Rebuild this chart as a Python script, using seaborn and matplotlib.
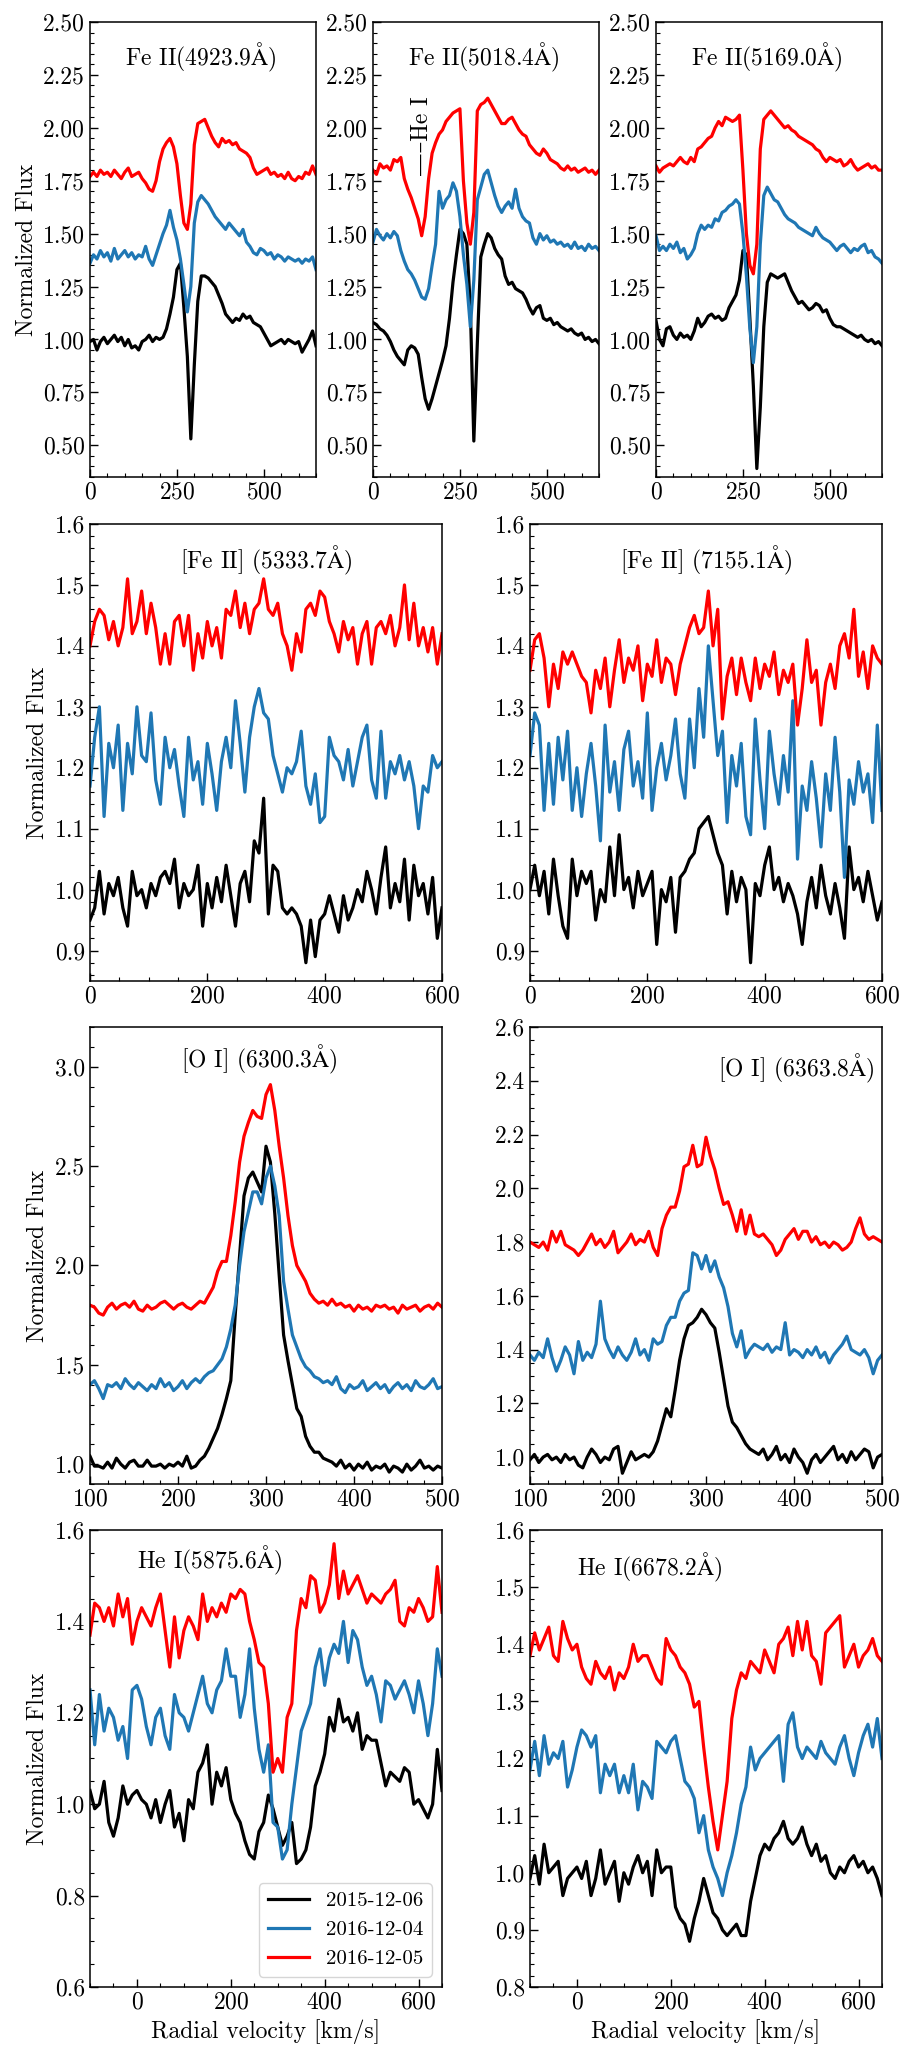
import numpy as np
import matplotlib
matplotlib.use("Agg")
import matplotlib.pyplot as plt
from matplotlib.ticker import MultipleLocator, FormatStrFormatter
import seaborn as sns

DATES = ["2015-12-06", "2016-12-04", "2016-12-05"]
COLORS = ["black", "#1f77b4", "red"]

v_fe = np.arange(0, 651, 10)
v_forb = np.arange(0, 601, 8)
v_oi = np.arange(100, 501, 5)
v_he = np.arange(-100, 651, 10)

# Fe II 4923.9
fe4924_k = [0.99, 1.00, 0.95, 0.99, 1.01, 0.98, 1.00, 1.02, 0.99, 1.01,
            0.97, 1.00, 0.96, 0.97, 0.95, 0.99, 1.00, 1.02, 0.99, 1.01,
            1.00, 1.01, 1.05, 1.12, 1.20, 1.33, 1.36, 1.15, 0.92, 0.53,
            0.88, 1.18, 1.30, 1.30, 1.29, 1.27, 1.25, 1.21, 1.17, 1.12,
            1.10, 1.08, 1.10, 1.09, 1.12, 1.10, 1.11, 1.08, 1.07, 1.06,
            1.03, 1.00, 0.97, 0.98, 0.99, 1.00, 0.98, 1.00, 0.99, 0.98,
            0.99, 0.94, 0.97, 1.00, 1.04, 0.97]
fe4924_b = [1.36, 1.40, 1.38, 1.42, 1.39, 1.41, 1.37, 1.43, 1.38, 1.40,
            1.42, 1.39, 1.41, 1.38, 1.40, 1.39, 1.44, 1.38, 1.35, 1.40,
            1.45, 1.50, 1.54, 1.61, 1.53, 1.47, 1.38, 1.26, 1.13, 1.25,
            1.55, 1.65, 1.68, 1.66, 1.64, 1.61, 1.58, 1.56, 1.54, 1.52,
            1.55, 1.53, 1.51, 1.49, 1.52, 1.46, 1.44, 1.41, 1.40, 1.43,
            1.42, 1.40, 1.41, 1.38, 1.40, 1.39, 1.37, 1.39, 1.38, 1.37,
            1.38, 1.36, 1.38, 1.37, 1.39, 1.33]
fe4924_r = [1.77, 1.79, 1.77, 1.80, 1.78, 1.79, 1.77, 1.80, 1.78, 1.76,
            1.79, 1.81, 1.77, 1.78, 1.79, 1.76, 1.74, 1.71, 1.70, 1.75,
            1.84, 1.90, 1.93, 1.95, 1.91, 1.83, 1.68, 1.55, 1.52, 1.64,
            1.92, 2.02, 2.03, 2.04, 2.00, 1.96, 1.93, 1.91, 1.95, 1.93,
            1.94, 1.92, 1.93, 1.90, 1.89, 1.88, 1.86, 1.81, 1.78, 1.79,
            1.80, 1.81, 1.78, 1.79, 1.77, 1.78, 1.76, 1.79, 1.76, 1.75,
            1.77, 1.76, 1.79, 1.78, 1.82, 1.78]

# Fe II 5018.4
fe5018_k = [1.08, 1.07, 1.05, 1.04, 1.02, 0.99, 0.95, 0.92, 0.90, 0.88,
            0.95, 0.97, 0.96, 0.93, 0.82, 0.72, 0.67, 0.72, 0.78, 0.84,
            0.90, 0.97, 1.10, 1.27, 1.40, 1.52, 1.50, 1.45, 1.15, 0.52,
            0.98, 1.39, 1.45, 1.50, 1.48, 1.43, 1.40, 1.38, 1.30, 1.26,
            1.27, 1.24, 1.23, 1.22, 1.19, 1.15, 1.12, 1.15, 1.16, 1.10,
            1.09, 1.10, 1.07, 1.08, 1.06, 1.05, 1.04, 1.05, 1.03, 1.02,
            1.03, 1.00, 1.01, 0.99, 1.00, 0.98]
fe5018_b = [1.46, 1.52, 1.49, 1.47, 1.50, 1.48, 1.51, 1.49, 1.42, 1.37,
            1.33, 1.31, 1.28, 1.24, 1.20, 1.19, 1.24, 1.35, 1.45, 1.70,
            1.62, 1.66, 1.68, 1.74, 1.70, 1.58, 1.40, 1.26, 1.06, 1.28,
            1.66, 1.72, 1.78, 1.80, 1.74, 1.68, 1.63, 1.60, 1.63, 1.65,
            1.62, 1.71, 1.62, 1.58, 1.56, 1.55, 1.48, 1.45, 1.50, 1.47,
            1.49, 1.46, 1.47, 1.45, 1.46, 1.44, 1.45, 1.43, 1.46, 1.43,
            1.44, 1.42, 1.45, 1.43, 1.44, 1.42]
fe5018_r = [1.80, 1.78, 1.83, 1.81, 1.82, 1.80, 1.85, 1.84, 1.86, 1.76,
            1.71, 1.67, 1.62, 1.57, 1.49, 1.58, 1.76, 1.88, 1.93, 1.97,
            1.99, 2.03, 2.05, 2.07, 2.08, 2.09, 1.75, 1.55, 1.45, 1.60,
            2.08, 2.11, 2.12, 2.14, 2.11, 2.08, 2.05, 2.02, 2.02, 2.04,
            2.05, 2.02, 1.99, 1.97, 1.96, 1.92, 1.90, 1.88, 1.87, 1.90,
            1.88, 1.85, 1.84, 1.83, 1.81, 1.80, 1.82, 1.80, 1.81, 1.79,
            1.80, 1.81, 1.79, 1.80, 1.78, 1.80]

# Fe II 5169.0
fe5169_k = [1.09, 1.00, 0.97, 1.05, 1.06, 1.02, 1.00, 1.03, 1.01, 1.02,
            1.00, 1.04, 1.10, 1.06, 1.08, 1.11, 1.12, 1.10, 1.11, 1.09,
            1.10, 1.15, 1.18, 1.21, 1.28, 1.42, 1.40, 1.10, 0.78, 0.39,
            0.68, 1.06, 1.27, 1.31, 1.30, 1.29, 1.30, 1.31, 1.27, 1.23,
            1.20, 1.17, 1.18, 1.16, 1.14, 1.15, 1.17, 1.16, 1.13, 1.14,
            1.10, 1.07, 1.06, 1.06, 1.05, 1.04, 1.03, 1.02, 1.01, 1.02,
            1.00, 0.99, 1.00, 0.98, 0.99, 0.97]
fe5169_b = [1.49, 1.42, 1.44, 1.42, 1.45, 1.43, 1.46, 1.41, 1.43, 1.38,
            1.40, 1.43, 1.50, 1.54, 1.52, 1.54, 1.53, 1.57, 1.56, 1.60,
            1.61, 1.63, 1.64, 1.66, 1.64, 1.50, 1.30, 1.05, 0.89, 1.06,
            1.45, 1.68, 1.72, 1.69, 1.66, 1.65, 1.62, 1.59, 1.57, 1.56,
            1.55, 1.53, 1.52, 1.51, 1.50, 1.49, 1.53, 1.50, 1.48, 1.47,
            1.46, 1.44, 1.42, 1.44, 1.45, 1.43, 1.41, 1.43, 1.42, 1.44,
            1.45, 1.41, 1.42, 1.39, 1.38, 1.36]
fe5169_r = [1.82, 1.79, 1.81, 1.82, 1.83, 1.82, 1.84, 1.86, 1.84, 1.83,
            1.86, 1.84, 1.90, 1.91, 1.93, 1.95, 1.96, 2.00, 2.03, 2.01,
            2.05, 2.04, 2.03, 2.04, 2.06, 1.80, 1.50, 1.35, 1.31, 1.45,
            1.90, 2.04, 2.06, 2.08, 2.06, 2.04, 2.02, 2.00, 2.01, 1.99,
            1.98, 1.96, 1.95, 1.94, 1.93, 1.92, 1.90, 1.89, 1.86, 1.84,
            1.86, 1.85, 1.84, 1.85, 1.82, 1.83, 1.85, 1.82, 1.80, 1.81,
            1.82, 1.83, 1.81, 1.82, 1.80, 1.80]

# [Fe II] 5333.7
fe5334_k = [0.95, 0.97, 1.03, 0.96, 1.01, 0.99, 1.02, 0.97, 0.94, 1.03,
            0.99, 1.00, 0.97, 1.01, 0.99, 1.02, 1.03, 1.01, 1.05, 0.97,
            1.01, 0.99, 1.00, 1.04, 0.94, 1.01, 0.97, 1.02, 0.98, 1.04,
            0.99, 0.94, 1.01, 1.03, 0.98, 1.08, 1.06, 1.15, 0.96, 1.04,
            1.03, 0.97, 0.96, 0.97, 0.96, 0.94, 0.88, 0.95, 0.89, 0.95,
            0.96, 0.99, 0.96, 0.93, 0.99, 0.95, 0.97, 1.00, 0.98, 1.03,
            1.00, 0.96, 1.02, 1.07, 0.97, 1.01, 0.98, 1.05, 0.95, 1.04,
            0.99, 1.01, 0.96, 1.02, 0.92, 0.97]
fe5334_b = [1.17, 1.25, 1.30, 1.12, 1.24, 1.20, 1.27, 1.13, 1.24, 1.19,
            1.30, 1.22, 1.21, 1.29, 1.18, 1.14, 1.25, 1.20, 1.23, 1.17,
            1.12, 1.25, 1.18, 1.21, 1.14, 1.24, 1.19, 1.13, 1.21, 1.25,
            1.20, 1.31, 1.24, 1.16, 1.25, 1.30, 1.33, 1.29, 1.28, 1.22,
            1.19, 1.16, 1.20, 1.19, 1.21, 1.26, 1.17, 1.14, 1.19, 1.11,
            1.12, 1.25, 1.22, 1.21, 1.18, 1.23, 1.17, 1.21, 1.25, 1.27,
            1.18, 1.15, 1.26, 1.15, 1.21, 1.19, 1.22, 1.18, 1.21, 1.17,
            1.10, 1.17, 1.16, 1.22, 1.20, 1.21]
fe5334_r = [1.40, 1.44, 1.46, 1.45, 1.41, 1.44, 1.40, 1.43, 1.51, 1.42,
            1.44, 1.49, 1.42, 1.47, 1.43, 1.37, 1.42, 1.37, 1.44, 1.45,
            1.40, 1.45, 1.36, 1.42, 1.38, 1.44, 1.40, 1.43, 1.38, 1.46,
            1.45, 1.49, 1.43, 1.47, 1.42, 1.46, 1.47, 1.51, 1.46, 1.45,
            1.47, 1.42, 1.40, 1.36, 1.42, 1.39, 1.46, 1.47, 1.45, 1.49,
            1.48, 1.44, 1.42, 1.39, 1.44, 1.41, 1.43, 1.37, 1.42, 1.44,
            1.37, 1.43, 1.44, 1.42, 1.45, 1.40, 1.43, 1.50, 1.41, 1.47,
            1.40, 1.43, 1.39, 1.43, 1.37, 1.42]

# [Fe II] 7155.1
fe7155_k = [1.00, 1.04, 0.99, 1.03, 0.96, 1.05, 0.99, 0.94, 0.92, 1.05,
            0.99, 1.03, 1.01, 1.03, 0.95, 1.00, 0.98, 1.07, 0.99, 1.09,
            1.00, 1.02, 0.97, 1.03, 0.99, 1.01, 1.03, 0.91, 1.00, 0.98,
            1.02, 0.93, 1.02, 1.03, 1.05, 1.06, 1.10, 1.11, 1.12, 1.09,
            1.06, 1.04, 0.96, 1.03, 0.98, 1.02, 1.00, 0.88, 1.01, 0.99,
            1.04, 1.07, 1.00, 1.02, 0.98, 1.01, 0.99, 0.96, 0.91, 0.98,
            1.02, 0.97, 1.04, 0.99, 0.96, 1.01, 0.97, 0.92, 1.07, 1.00,
            1.02, 0.98, 1.03, 0.99, 0.95, 0.98]
fe7155_b = [1.22, 1.29, 1.27, 1.13, 1.24, 1.14, 1.25, 1.18, 1.26, 1.13,
            1.20, 1.12, 1.19, 1.24, 1.17, 1.08, 1.27, 1.16, 1.21, 1.13,
            1.23, 1.26, 1.17, 1.21, 1.15, 1.29, 1.13, 1.20, 1.24, 1.18,
            1.22, 1.28, 1.19, 1.15, 1.28, 1.20, 1.33, 1.25, 1.40, 1.31,
            1.22, 1.26, 1.11, 1.22, 1.17, 1.24, 1.12, 1.09, 1.28, 1.18,
            1.10, 1.26, 1.19, 1.14, 1.22, 1.16, 1.31, 1.05, 1.17, 1.13,
            1.21, 1.15, 1.07, 1.19, 1.13, 1.25, 1.16, 1.02, 1.18, 1.14,
            1.21, 1.16, 1.19, 1.11, 1.27, 1.13]
fe7155_r = [1.36, 1.41, 1.42, 1.38, 1.30, 1.37, 1.33, 1.39, 1.37, 1.39,
            1.37, 1.35, 1.34, 1.29, 1.36, 1.33, 1.38, 1.30, 1.36, 1.41,
            1.34, 1.38, 1.36, 1.40, 1.31, 1.37, 1.35, 1.41, 1.34, 1.38,
            1.37, 1.32, 1.37, 1.40, 1.43, 1.45, 1.42, 1.43, 1.49, 1.40,
            1.46, 1.28, 1.35, 1.38, 1.32, 1.38, 1.34, 1.31, 1.38, 1.33,
            1.37, 1.35, 1.39, 1.32, 1.36, 1.34, 1.37, 1.27, 1.33, 1.41,
            1.34, 1.36, 1.27, 1.34, 1.37, 1.33, 1.40, 1.42, 1.38, 1.46,
            1.35, 1.39, 1.33, 1.40, 1.38, 1.37]

# [O I] 6300.3
oi6300_k = [1.04, 0.99, 0.99, 0.98, 1.01, 0.98, 1.03, 1.00, 0.98, 1.01,
            1.02, 0.99, 0.99, 1.02, 0.99, 0.99, 1.00, 0.98, 1.00, 0.99,
            1.01, 0.99, 1.04, 0.98, 0.99, 1.02, 1.04, 1.08, 1.13, 1.18,
            1.25, 1.33, 1.42, 1.75, 2.05, 2.35, 2.44, 2.47, 2.42, 2.37,
            2.60, 2.52, 2.26, 1.95, 1.65, 1.52, 1.40, 1.28, 1.24, 1.14,
            1.09, 1.06, 1.06, 1.03, 1.02, 1.01, 0.99, 1.02, 0.98, 1.00,
            0.97, 1.00, 0.98, 1.01, 0.97, 0.99, 0.98, 1.00, 0.96, 0.99,
            0.98, 0.96, 1.00, 0.97, 0.99, 1.02, 0.98, 0.99, 0.97, 0.99,
            0.98]
oi6300_b = [1.40, 1.42, 1.38, 1.33, 1.40, 1.39, 1.41, 1.38, 1.43, 1.40,
            1.38, 1.41, 1.39, 1.37, 1.40, 1.38, 1.43, 1.39, 1.41, 1.37,
            1.39, 1.42, 1.38, 1.41, 1.43, 1.41, 1.44, 1.46, 1.47, 1.50,
            1.53, 1.59, 1.68, 1.80, 2.00, 2.17, 2.27, 2.37, 2.37, 2.31,
            2.44, 2.50, 2.40, 2.25, 1.92, 1.78, 1.65, 1.59, 1.53, 1.49,
            1.47, 1.44, 1.43, 1.41, 1.42, 1.40, 1.44, 1.38, 1.36, 1.40,
            1.38, 1.39, 1.42, 1.37, 1.39, 1.41, 1.38, 1.40, 1.36, 1.39,
            1.41, 1.38, 1.40, 1.37, 1.42, 1.39, 1.38, 1.40, 1.43, 1.38,
            1.39]
oi6300_r = [1.80, 1.79, 1.76, 1.75, 1.79, 1.81, 1.78, 1.80, 1.81, 1.79,
            1.82, 1.78, 1.77, 1.80, 1.78, 1.79, 1.81, 1.82, 1.80, 1.78,
            1.80, 1.81, 1.79, 1.78, 1.80, 1.82, 1.81, 1.85, 1.89, 1.97,
            2.02, 2.02, 2.15, 2.32, 2.52, 2.65, 2.72, 2.78, 2.75, 2.74,
            2.86, 2.91, 2.78, 2.60, 2.44, 2.25, 2.10, 2.00, 1.96, 1.92,
            1.86, 1.83, 1.81, 1.82, 1.80, 1.83, 1.80, 1.81, 1.79, 1.80,
            1.77, 1.80, 1.78, 1.79, 1.77, 1.80, 1.79, 1.80, 1.78, 1.79,
            1.76, 1.80, 1.78, 1.79, 1.80, 1.77, 1.79, 1.80, 1.78, 1.81,
            1.79]

# [O I] 6363.8
oi6364_k = [0.99, 1.01, 0.98, 1.00, 1.01, 0.99, 1.00, 0.98, 1.01, 0.99,
            1.00, 0.97, 0.96, 1.00, 1.03, 1.01, 0.98, 1.00, 0.99, 1.03,
            1.04, 0.94, 0.98, 1.02, 0.99, 1.00, 1.01, 1.00, 1.02, 1.06,
            1.12, 1.18, 1.15, 1.25, 1.36, 1.44, 1.49, 1.50, 1.52, 1.55,
            1.53, 1.50, 1.48, 1.39, 1.29, 1.19, 1.13, 1.11, 1.08, 1.05,
            1.03, 1.02, 1.01, 1.03, 0.99, 1.01, 1.04, 0.99, 1.01, 0.98,
            1.03, 1.00, 0.98, 0.94, 0.99, 1.01, 0.98, 1.00, 1.02, 1.04,
            0.99, 1.01, 0.98, 1.02, 0.99, 1.01, 1.03, 1.02, 0.96, 1.00,
            1.01]
oi6364_b = [1.38, 1.36, 1.39, 1.37, 1.44, 1.37, 1.32, 1.36, 1.41, 1.38,
            1.31, 1.43, 1.36, 1.39, 1.37, 1.42, 1.58, 1.44, 1.40, 1.37,
            1.41, 1.38, 1.36, 1.39, 1.44, 1.38, 1.40, 1.36, 1.44, 1.42,
            1.43, 1.49, 1.52, 1.52, 1.58, 1.61, 1.62, 1.76, 1.75, 1.70,
            1.75, 1.69, 1.73, 1.67, 1.63, 1.56, 1.46, 1.41, 1.47, 1.37,
            1.40, 1.42, 1.41, 1.40, 1.42, 1.39, 1.41, 1.40, 1.50, 1.38,
            1.40, 1.39, 1.37, 1.40, 1.38, 1.41, 1.37, 1.39, 1.35, 1.38,
            1.40, 1.42, 1.45, 1.40, 1.39, 1.38, 1.40, 1.37, 1.31, 1.36,
            1.38]
oi6364_r = [1.80, 1.79, 1.78, 1.80, 1.77, 1.84, 1.80, 1.84, 1.79, 1.78,
            1.77, 1.75, 1.77, 1.80, 1.83, 1.79, 1.81, 1.78, 1.80, 1.84,
            1.76, 1.78, 1.80, 1.83, 1.79, 1.81, 1.80, 1.84, 1.78, 1.75,
            1.85, 1.90, 1.93, 1.93, 1.99, 2.08, 2.09, 2.16, 2.08, 2.09,
            2.19, 2.12, 2.07, 2.00, 1.94, 1.95, 1.90, 1.84, 1.92, 1.83,
            1.90, 1.83, 1.82, 1.83, 1.81, 1.79, 1.75, 1.77, 1.81, 1.83,
            1.85, 1.81, 1.84, 1.84, 1.80, 1.82, 1.79, 1.80, 1.78, 1.80,
            1.79, 1.77, 1.78, 1.80, 1.85, 1.89, 1.83, 1.81, 1.82, 1.81,
            1.80]

# He I 5875.6
he5876_k = [1.03, 0.99, 1.00, 1.05, 0.96, 0.93, 0.97, 1.04, 1.00, 1.02,
            1.03, 1.01, 1.00, 0.97, 1.01, 0.96, 1.00, 1.03, 0.95, 0.98,
            0.92, 1.01, 0.99, 1.07, 1.09, 1.13, 1.00, 1.07, 1.04, 1.08,
            1.01, 0.98, 0.96, 0.92, 0.89, 0.88, 0.94, 0.96, 1.02, 0.99,
            0.95, 0.91, 0.93, 0.96, 0.87, 0.88, 0.90, 0.95, 1.04, 1.07,
            1.11, 1.19, 1.16, 1.23, 1.18, 1.19, 1.16, 1.20, 1.12, 1.15,
            1.14, 1.14, 1.09, 1.04, 1.07, 1.06, 1.05, 1.08, 1.07, 1.00,
            1.01, 0.99, 0.97, 1.00, 1.12, 1.03]
he5876_b = [1.25, 1.13, 1.24, 1.16, 1.21, 1.19, 1.14, 1.17, 1.10, 1.25,
            1.26, 1.23, 1.17, 1.13, 1.19, 1.21, 1.15, 1.12, 1.24, 1.20,
            1.19, 1.16, 1.20, 1.24, 1.28, 1.22, 1.20, 1.25, 1.27, 1.34,
            1.28, 1.28, 1.19, 1.24, 1.34, 1.21, 1.12, 1.07, 1.13, 0.96,
            0.95, 0.88, 0.90, 1.00, 1.08, 1.16, 1.19, 1.22, 1.30, 1.34,
            1.26, 1.32, 1.35, 1.33, 1.40, 1.31, 1.38, 1.36, 1.30, 1.26,
            1.28, 1.24, 1.18, 1.27, 1.26, 1.23, 1.25, 1.27, 1.24, 1.20,
            1.27, 1.22, 1.15, 1.22, 1.34, 1.28]
he5876_r = [1.37, 1.44, 1.43, 1.40, 1.43, 1.39, 1.46, 1.41, 1.45, 1.35,
            1.40, 1.43, 1.41, 1.39, 1.43, 1.46, 1.38, 1.30, 1.41, 1.32,
            1.38, 1.41, 1.39, 1.36, 1.46, 1.40, 1.43, 1.41, 1.44, 1.42,
            1.46, 1.45, 1.47, 1.46, 1.40, 1.36, 1.31, 1.30, 1.22, 1.07,
            1.10, 1.07, 1.19, 1.22, 1.38, 1.45, 1.43, 1.50, 1.49, 1.42,
            1.44, 1.48, 1.57, 1.45, 1.51, 1.46, 1.48, 1.50, 1.47, 1.44,
            1.46, 1.45, 1.44, 1.46, 1.47, 1.49, 1.40, 1.39, 1.43, 1.42,
            1.45, 1.43, 1.40, 1.41, 1.52, 1.42]

# He I 6678.2
he6678_k = [0.99, 1.03, 0.98, 1.05, 1.00, 1.01, 1.02, 0.96, 0.99, 1.00,
            1.01, 0.99, 1.02, 0.96, 0.99, 1.04, 0.98, 1.00, 1.02, 0.95,
            1.00, 0.98, 1.01, 1.03, 1.00, 1.02, 0.96, 1.04, 1.00, 1.01,
            1.01, 0.94, 0.92, 0.91, 0.88, 0.92, 0.95, 0.99, 0.96, 0.93,
            0.92, 0.90, 0.89, 0.90, 0.91, 0.89, 0.89, 0.95, 0.99, 1.03,
            1.05, 1.04, 1.06, 1.07, 1.09, 1.06, 1.05, 1.06, 1.08, 1.05,
            1.03, 1.05, 1.02, 1.03, 1.00, 0.99, 1.01, 1.00, 1.02, 1.03,
            1.01, 1.02, 1.00, 1.01, 0.99, 0.96]
he6678_b = [1.18, 1.23, 1.17, 1.24, 1.19, 1.21, 1.20, 1.23, 1.15, 1.18,
            1.22, 1.25, 1.24, 1.22, 1.24, 1.14, 1.19, 1.17, 1.19, 1.14,
            1.17, 1.14, 1.19, 1.11, 1.16, 1.15, 1.13, 1.23, 1.22, 1.21,
            1.23, 1.24, 1.20, 1.16, 1.15, 1.13, 1.07, 1.10, 1.04, 1.01,
            0.99, 0.96, 1.00, 1.03, 1.07, 1.12, 1.15, 1.22, 1.18, 1.20,
            1.21, 1.22, 1.23, 1.24, 1.16, 1.26, 1.28, 1.22, 1.20, 1.22,
            1.21, 1.20, 1.23, 1.21, 1.20, 1.19, 1.22, 1.24, 1.20, 1.17,
            1.21, 1.24, 1.26, 1.22, 1.27, 1.20]
he6678_r = [1.38, 1.42, 1.39, 1.41, 1.43, 1.38, 1.37, 1.44, 1.41, 1.39,
            1.40, 1.36, 1.34, 1.33, 1.37, 1.35, 1.34, 1.36, 1.32, 1.35,
            1.34, 1.36, 1.40, 1.37, 1.38, 1.38, 1.36, 1.34, 1.33, 1.41,
            1.39, 1.38, 1.36, 1.35, 1.33, 1.29, 1.30, 1.22, 1.15, 1.09,
            1.04, 1.10, 1.16, 1.27, 1.32, 1.35, 1.34, 1.37, 1.36, 1.35,
            1.39, 1.37, 1.35, 1.40, 1.41, 1.43, 1.38, 1.44, 1.39, 1.44,
            1.38, 1.37, 1.33, 1.42, 1.43, 1.44, 1.45, 1.36, 1.38, 1.40,
            1.36, 1.38, 1.39, 1.41, 1.38, 1.37]


def configure():
    plt.rcParams.update({
        "font.family": ["cmr10", "DejaVu Serif"],
        "mathtext.fontset": "cm",
        "axes.formatter.use_mathtext": True,
        "axes.unicode_minus": False,
        "font.size": 17,
        "axes.linewidth": 1.1,
        "xtick.direction": "in",
        "ytick.direction": "in",
        "xtick.major.size": 5.5,
        "ytick.major.size": 5.5,
        "xtick.minor.size": 3,
        "ytick.minor.size": 3,
        "xtick.major.width": 1.0,
        "ytick.major.width": 1.0,
        "xtick.minor.width": 0.8,
        "ytick.minor.width": 0.8,
    })


W, H = 900, 2071


def rect(left, top, right, bottom):
    return [left / W, 1 - bottom / H, (right - left) / W, (bottom - top) / H]


def panel(fig, box, vel, fluxes, title, tpos, xlim, xt, yl, yt, yfmt,
          ylabel=False, xlabel=False, labels=None):
    ax = fig.add_axes(rect(*box))
    for i, (flux, col) in enumerate(zip(fluxes, COLORS)):
        sns.lineplot(x=vel, y=flux, color=col, lw=2.3, ax=ax,
                     label=labels[i] if labels else None, legend=False)
    ax.set_xlim(*xlim)
    ax.set_ylim(*yl)
    ax.xaxis.set_major_locator(MultipleLocator(xt[0]))
    ax.xaxis.set_minor_locator(MultipleLocator(xt[1]))
    ax.yaxis.set_major_locator(MultipleLocator(yt[0]))
    ax.yaxis.set_minor_locator(MultipleLocator(yt[1]))
    ax.yaxis.set_major_formatter(FormatStrFormatter(yfmt))
    ax.tick_params(which="both", top=False, right=False, labelsize=17)
    ax.text(tpos[0], tpos[1], title, transform=ax.transAxes,
            ha=tpos[2], va="center", fontsize=17)
    ax.set_ylabel("Normalized Flux" if ylabel else "", fontsize=17)
    ax.set_xlabel("Radial velocity [km/s]" if xlabel else "", fontsize=17)
    return ax


def main():
    configure()
    fig = plt.figure(figsize=(W / 100, H / 100), dpi=100)
    top_y = ((0.35, 2.5), (0.25, 0.05), "%.2f")
    top_x = ((0, 650), (250, 50))

    panel(fig, (90, 22, 316, 477), v_fe, [fe4924_k, fe4924_b, fe4924_r],
          r"Fe II(4923.9$\mathrm{\AA}$)", (0.155, 0.923, "left"),
          top_x[0], top_x[1], *top_y, ylabel=True)
    ax2 = panel(fig, (373, 22, 599, 477), v_fe, [fe5018_k, fe5018_b, fe5018_r],
                r"Fe II(5018.4$\mathrm{\AA}$)", (0.155, 0.923, "left"),
                top_x[0], top_x[1], *top_y)
    ax2.text(140, 1.77, "\u2014\u2013He I", rotation=90, ha="center",
             va="bottom", fontsize=17)
    panel(fig, (656, 22, 882, 477), v_fe, [fe5169_k, fe5169_b, fe5169_r],
          r"Fe II(5169.0$\mathrm{\AA}$)", (0.155, 0.923, "left"),
          top_x[0], top_x[1], *top_y)

    mid = dict(xlim=(0, 600), xt=(200, 50), yl=(0.85, 1.6), yt=(0.1, 0.02),
               yfmt="%.1f")
    panel(fig, (90, 524, 442, 981), v_forb, [fe5334_k, fe5334_b, fe5334_r],
          r"[Fe II] (5333.7$\mathrm{\AA}$)", (0.5, 0.921, "center"),
          ylabel=True, **mid)
    panel(fig, (530, 524, 882, 981), v_forb, [fe7155_k, fe7155_b, fe7155_r],
          r"[Fe II] (7155.1$\mathrm{\AA}$)", (0.5, 0.921, "center"), **mid)

    panel(fig, (90, 1027, 442, 1484), v_oi, [oi6300_k, oi6300_b, oi6300_r],
          r"[O I] (6300.3$\mathrm{\AA}$)", (0.48, 0.928, "center"),
          (100, 500), (100, 20), (0.9, 3.2), (0.5, 0.1), "%.1f", ylabel=True)
    panel(fig, (530, 1027, 882, 1484), v_oi, [oi6364_k, oi6364_b, oi6364_r],
          r"[O I] (6363.8$\mathrm{\AA}$)", (0.757, 0.91, "center"),
          (100, 500), (100, 20), (0.9, 2.6), (0.2, 0.05), "%.1f")

    ax7 = panel(fig, (90, 1530, 442, 1987), v_he, [he5876_k, he5876_b, he5876_r],
                r"He I(5875.6$\mathrm{\AA}$)", (0.134, 0.934, "left"),
                (-100, 650), (200, 50), (0.6, 1.6), (0.2, 0.05), "%.1f",
                ylabel=True, xlabel=True, labels=DATES)
    ax7.legend(loc="lower right", fontsize=15, frameon=True, fancybox=True,
               framealpha=0.8, edgecolor="0.8")
    panel(fig, (530, 1530, 882, 1987), v_he, [he6678_k, he6678_b, he6678_r],
          r"He I(6678.2$\mathrm{\AA}$)", (0.134, 0.917, "left"),
          (-100, 650), (200, 50), (0.8, 1.6), (0.1, 0.02), "%.1f",
          xlabel=True)

    fig.savefig("out.png", dpi=100)


if __name__ == "__main__":
    main()
